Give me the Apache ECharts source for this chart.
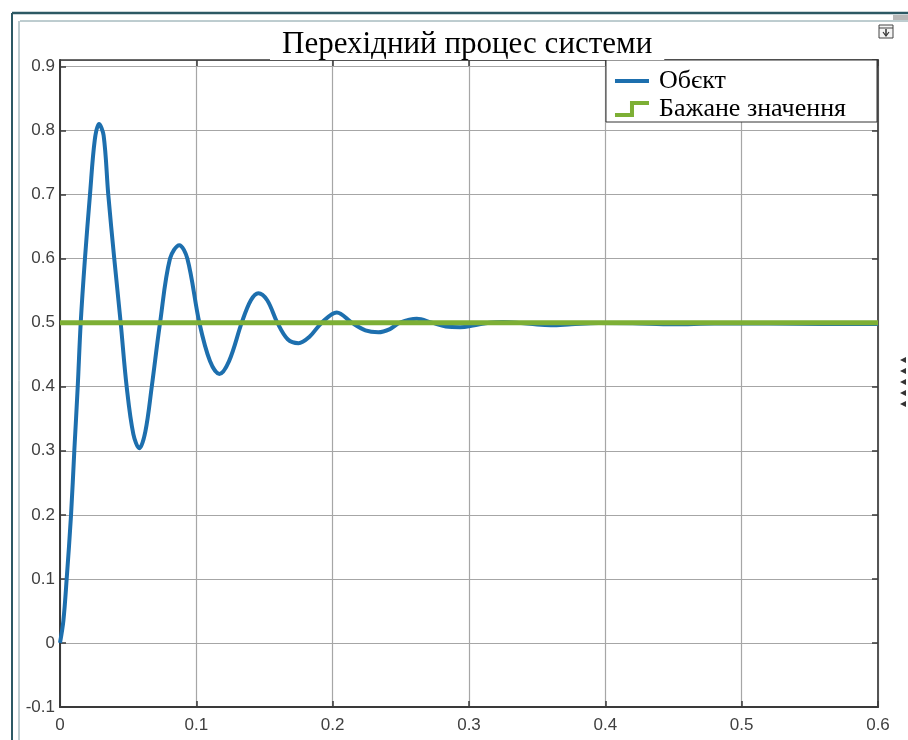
<!DOCTYPE html>
<html>
<head>
<meta charset="utf-8">
<title>Перехідний процес системи</title>
<script src="https://cdn.jsdelivr.net/npm/echarts@6/dist/echarts.min.js"></script>
<style>
  html, body { margin: 0; padding: 0; background: #ffffff; }
  #chart { width: 908px; height: 740px; }
</style>
</head>
<body>
<div id="chart"></div>
<script>
// Step response of the system (time in s, output value)
const responseTime = [
  0, 0.0025, 0.0049, 0.0081, 0.0105, 0.0130, 0.0152, 0.0183, 0.0220, 0.0255,
  0.0286, 0.0320, 0.0354, 0.0398, 0.0445, 0.0489, 0.0538, 0.0582, 0.0626, 0.0673,
  0.0734, 0.0807, 0.0875, 0.0934, 0.1022, 0.1100, 0.1169, 0.1240, 0.1333, 0.1400,
  0.1455, 0.1520, 0.1594, 0.1670, 0.1749, 0.1830, 0.1920, 0.2030, 0.2140, 0.2240,
  0.2335, 0.2420, 0.2494, 0.2617, 0.2727, 0.2830, 0.2935, 0.3040, 0.3150, 0.3250,
  0.3350, 0.3500, 0.3600, 0.3750, 0.3950, 0.4200, 0.4500, 0.4800, 0.5200, 0.5600,
  0.6000
];
const responseValue = [
  0, 0.035, 0.100, 0.200, 0.300, 0.400, 0.500, 0.600, 0.700, 0.785,
  0.810, 0.792, 0.700, 0.600, 0.500, 0.400, 0.326, 0.304, 0.330, 0.400,
  0.500, 0.600, 0.621, 0.600, 0.500, 0.440, 0.420, 0.440, 0.500, 0.535,
  0.546, 0.535, 0.500, 0.474, 0.468, 0.478, 0.500, 0.516, 0.500, 0.488,
  0.485, 0.490, 0.500, 0.506, 0.500, 0.494, 0.493, 0.496, 0.500, 0.501,
  0.500, 0.497, 0.496, 0.4975, 0.4995, 0.499, 0.4975, 0.4985, 0.4985, 0.498,
  0.498
];

// Desired (reference) value
const setpointTime = [0, 0.6];
const setpointValue = [0.5, 0.5];

const xTicks = { min: 0, max: 0.6, interval: 0.1 };
const yTicks = { min: -0.1, max: 0.91, interval: 0.1 };

const seriesNames = ['Обєкт', 'Бажане значення'];
const chartTitle = 'Перехідний процес системи';

const blue = '#1d6fae';
const green = '#7daf35';
const axisDark = '#3a3a3a';
const gridGray = '#a6a6a6';

const responseData = responseTime.map((t, i) => [t, responseValue[i]]);
const setpointData = setpointTime.map((t, i) => [t, setpointValue[i]]);

const chart = echarts.init(document.getElementById('chart'), null, { renderer: 'canvas' });

const labelFont = { fontFamily: 'Liberation Sans', fontSize: 17, color: '#404040' };
const frameX = 12, frameY = 13;

chart.setOption({
  backgroundColor: '#ffffff',
  animation: false,
  title: {
    text: chartTitle,
    left: 270,
    top: 25,
    padding: [4, 12, 0, 12],
    backgroundColor: '#ffffff',
    textStyle: { fontFamily: 'Liberation Serif', fontSize: 31, fontWeight: 'normal', color: '#000000', lineHeight: 31 }
  },
  legend: {
    data: [
      {
        name: seriesNames[0],
        icon: 'path://M0,0 L34,0 L34,4 L0,4 Z',
        itemStyle: { color: blue, borderWidth: 0 }
      },
      {
        name: seriesNames[1],
        icon: 'path://M0,12 L15,12 L15,0 L34,0 L34,4 L19,4 L19,16 L0,16 Z',
        itemStyle: { color: green, borderWidth: 0 }
      }
    ],
    orient: 'vertical',
    right: 31,
    top: 60,
    selectedMode: false,
    backgroundColor: '#ffffff',
    borderColor: '#333333',
    borderWidth: 1,
    padding: [8, 31, 0, 9],
    itemGap: 2,
    itemWidth: 34,
    itemHeight: 16,
    itemTextGap: 10,
    textStyle: { fontFamily: 'Liberation Serif', fontSize: 26, color: '#000000', padding: [0, 0, 0, 5] }
  },
  grid: {
    left: 60, right: 30, top: 60, bottom: 33,
    show: false
  },
  xAxis: [
    {
      type: 'value', position: 'bottom',
      min: xTicks.min, max: xTicks.max, interval: xTicks.interval,
      axisLine: { show: true, onZero: false, lineStyle: { color: axisDark, width: 2 } },
      axisTick: { show: true, inside: true, length: 6, lineStyle: { color: axisDark, width: 1.5 } },
      axisLabel: Object.assign({ margin: 10 }, labelFont),
      splitLine: { show: true, lineStyle: { color: gridGray, width: 1.2 } }
    },
    {
      type: 'value', position: 'top',
      min: xTicks.min, max: xTicks.max, interval: xTicks.interval,
      axisLine: { show: true, onZero: false, lineStyle: { color: axisDark, width: 1.5 } },
      axisTick: { show: true, inside: true, length: 6, lineStyle: { color: axisDark, width: 1.5 } },
      axisLabel: { show: false },
      splitLine: { show: false }
    }
  ],
  yAxis: [
    {
      type: 'value', position: 'left',
      min: yTicks.min, max: yTicks.max, interval: yTicks.interval,
      axisLine: { show: true, onZero: false, lineStyle: { color: axisDark, width: 2 } },
      axisTick: { show: true, inside: true, length: 6, lineStyle: { color: axisDark, width: 1.5 } },
      axisLabel: Object.assign({ margin: 5, showMaxLabel: false }, labelFont),
      splitLine: { show: true, lineStyle: { color: gridGray, width: 1.2 } }
    },
    {
      type: 'value', position: 'right',
      min: yTicks.min, max: yTicks.max, interval: yTicks.interval,
      axisLine: { show: true, onZero: false, lineStyle: { color: '#555555', width: 2 } },
      axisTick: { show: true, inside: true, length: 6, lineStyle: { color: axisDark, width: 1.5 } },
      axisLabel: { show: false },
      splitLine: { show: false }
    }
  ],
  series: [
    {
      name: seriesNames[0],
      type: 'line',
      xAxisIndex: 0, yAxisIndex: 0,
      data: responseData,
      smooth: 0.35,
      showSymbol: false,
      symbol: 'none',
      lineStyle: { color: blue, width: 4 },
      itemStyle: { color: blue }
    },
    {
      name: seriesNames[1],
      type: 'line',
      xAxisIndex: 0, yAxisIndex: 0,
      data: setpointData,
      step: 'start',
      showSymbol: false,
      symbol: 'none',
      lineStyle: { color: green, width: 5 },
      itemStyle: { color: green }
    }
  ],
  graphic: [
    // window frame
    { type: 'line', silent: true, shape: { x1: frameX, y1: frameY, x2: 908, y2: frameY }, style: { stroke: '#2c5964', lineWidth: 2.5 } },
    { type: 'line', silent: true, shape: { x1: frameX + 8, y1: frameY + 8, x2: 908, y2: frameY + 8 }, style: { stroke: '#7d9aa0', lineWidth: 1 } },
    { type: 'line', silent: true, shape: { x1: frameX, y1: frameY, x2: frameX, y2: 740 }, style: { stroke: '#2c5964', lineWidth: 2 } },
    { type: 'line', silent: true, shape: { x1: frameX + 7, y1: frameY + 8, x2: frameX + 7, y2: 740 }, style: { stroke: '#7d9aa0', lineWidth: 1 } },
    { type: 'rect', silent: true, shape: { x: 893, y: 15, width: 15, height: 5 }, style: { fill: '#b8b8b8' } },
    // dock button
    { type: 'rect', silent: true, shape: { x: 879, y: 25, width: 14, height: 13 }, style: { fill: '#f4f4f4', stroke: '#444444', lineWidth: 1 } },
    { type: 'line', silent: true, shape: { x1: 879, y1: 28, x2: 893, y2: 28 }, style: { stroke: '#444444', lineWidth: 1 } },
    { type: 'line', silent: true, shape: { x1: 886, y1: 29, x2: 886, y2: 35 }, style: { stroke: '#333333', lineWidth: 1.5 } },
    { type: 'polyline', silent: true, shape: { points: [[883, 32], [886, 36], [889, 32]] }, style: { stroke: '#333333', lineWidth: 1.2, fill: null } },
    // collapsed side panel arrows
    { type: 'polygon', silent: true, shape: { points: [[900, 360], [906, 357], [906, 363]] }, style: { fill: '#333333' } },
    { type: 'polygon', silent: true, shape: { points: [[900, 371], [906, 368], [906, 374]] }, style: { fill: '#333333' } },
    { type: 'polygon', silent: true, shape: { points: [[900, 382], [906, 379], [906, 385]] }, style: { fill: '#333333' } },
    { type: 'polygon', silent: true, shape: { points: [[900, 393], [906, 390], [906, 396]] }, style: { fill: '#333333' } },
    { type: 'polygon', silent: true, shape: { points: [[900, 404], [906, 401], [906, 407]] }, style: { fill: '#333333' } }
  ]
});
</script>
</body>
</html>
